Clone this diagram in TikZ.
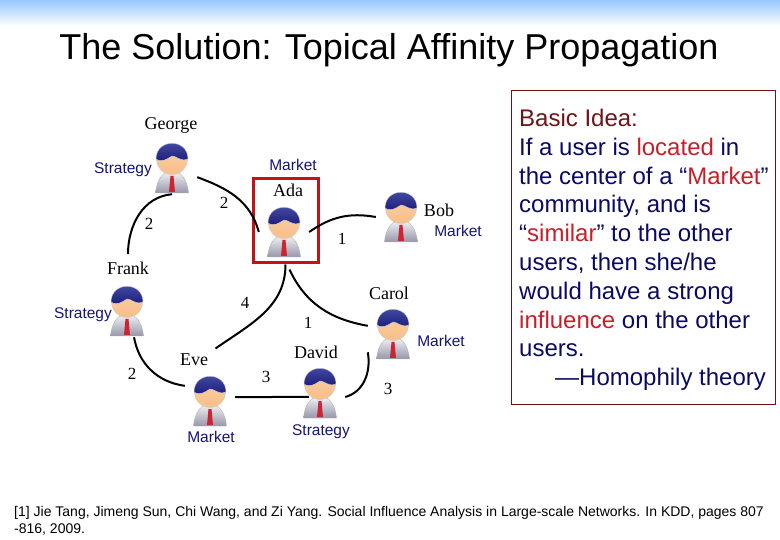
\documentclass[tikz,border=0pt]{standalone}
\usepackage{fontspec}
\setmainfont{Liberation Sans}
\newfontfamily\namefont{Liberation Serif}
\definecolor{TopBlue}{RGB}{150,200,255}
\definecolor{LabelBlue}{RGB}{20,20,120}
\definecolor{BoxRed}{RGB}{192,20,24}
\definecolor{IdeaNavy}{RGB}{10,10,100}
\definecolor{IdeaDark}{RGB}{110,20,20}
\definecolor{IdeaRed}{RGB}{200,30,40}
\definecolor{HairBlue}{RGB}{25,25,120}
\definecolor{HairTop}{RGB}{75,85,170}
\definecolor{SkinTone}{RGB}{248,190,135}
\definecolor{SuitGray}{RGB}{150,150,170}
\definecolor{TieRed}{RGB}{205,35,50}
\usetikzlibrary{positioning}
\tikzset{
  userbox/.style={minimum width=50pt,minimum height=52pt,inner sep=0pt},
  uname/.style={font=\namefont\fontsize{18}{18}\selectfont,text=black},
  weight/.style={font=\namefont\fontsize{17}{17}\selectfont,text=black,inner sep=1pt},
  topic/.style={font=\fontsize{15.5}{16}\selectfont,text=LabelBlue,inner sep=1pt},
  link/.style={line width=2pt,black},
  user/.pic={
    \shade[top color=white!90!SuitGray,bottom color=SuitGray,draw=gray!60] (-16.5,25) .. controls (-15,10) and (-8,3) .. (0,3)
      .. controls (8,3) and (15,10) .. (16.5,25) -- cycle;
    \fill[TieRed] (-1.5,8) -- (1.5,8) -- (3,24) -- (-3,24) -- cycle;
    \shade[top color=SkinTone!70!white,bottom color=SkinTone,draw=gray!40] (0,-9) circle (15.5);
    \shade[top color=HairTop,bottom color=HairBlue,draw=gray!30] (-16,-9) .. controls (-16,-30) and (16,-30) .. (16,-9)
      .. controls (8,-6) and (5,-12) .. (0,-12)
      .. controls (-5,-9) and (-10,-5) .. (-16,-9) -- cycle;
  }
}
\begin{document}
\begin{tikzpicture}[x=1pt,y=-1pt]
  \useasboundingbox (0,0) rectangle (780,540);
  \shade[top color=TopBlue,bottom color=white] (0,0) rectangle (780,26);
  \node[font=\fontsize{36}{36}\selectfont] (title) at (389,50) {The Solution: Topical Affinity Propagation};
  % users
  \node[userbox] (george) at (172,168) {};
  \node[userbox] (ada)    at (284,232) {};
  \node[userbox] (bob)    at (401,217) {};
  \node[userbox] (carol)  at (393,334) {};
  \node[userbox] (david)  at (320,393) {};
  \node[userbox] (eve)    at (210,401) {};
  \node[userbox] (frank)  at (127,311) {};
  \node[draw=BoxRed,line width=3pt,minimum width=65pt,minimum height=84pt,inner sep=0pt] (adabox) at (285.5,221) {};
  \node[uname] (georgename) at (171,125) {George};
  \node[uname] (adaname)    at (288,190) {Ada};
  \node[uname] (bobname)    at (439,210) {Bob};
  \node[uname] (carolname)  at (389,293) {Carol};
  \node[uname] (davidname)  at (316,352) {David};
  \node[uname] (evename)    at (194,360) {Eve};
  \node[uname] (frankname)  at (128,268) {Frank};
  % links
  \draw[link] (george.-20) to[out=-20,in=105] (ada.west);
  \draw[link] (george.south) to[out=185,in=90] ([yshift=4pt]frankname.north);
  \draw[link] (ada.east) to[out=35,in=170] (bob.west);
  \draw[link] ([xshift=4pt,yshift=-5pt]adabox.south) to[out=-65,in=170] (carol.162);
  \draw[link] (adabox.south) to[out=-90,in=35] ([xshift=4pt,yshift=2pt]evename.north east);
  \draw[link] (frank.-75) to[out=-80,in=172] (eve.149);
  \draw[link] (eve.9) -- ([xshift=14pt]david.189);
  \draw[link] (david.-9) to[out=15,in=-80] (carol.216);
  % the figures go over the ends of the links
  \foreach \usr in {george,ada,bob,carol,david,eve,frank}
    \pic at (\usr) {user};
  \node[weight] (w1) at (224,203) {2};
  \node[weight] (w2) at (149,224) {2};
  \node[weight] (w3) at (342,239) {1};
  \node[weight] (w4) at (308,323) {1};
  \node[weight] (w5) at (245,303) {4};
  \node[weight] (w6) at (132,374) {2};
  \node[weight] (w7) at (266,377) {3};
  \node[weight] (w8) at (388,389) {3};
  \node[topic] (t1) at (123,170) {Strategy};
  \node[topic] (t2) at (293,165) {Market};
  \node[topic] (t3) at (458,231) {Market};
  \node[topic] (t4) at (441,341) {Market};
  \node[topic] (t5) at (83,315)  {Strategy};
  \node[topic] (t6) at (211,437) {Market};
  \node[topic] (t7) at (321,432) {Strategy};
  % basic idea box
  \node[draw=IdeaDark,line width=0.8pt,minimum width=264pt,minimum height=314pt,inner sep=0pt] (ideabox) at (643,247) {};
  \node[anchor=north west,align=left,inner sep=0pt,text=IdeaNavy,font=\fontsize{24}{28.8}\selectfont] (ideatext) at (519,109)
    {\textcolor{IdeaDark}{Basic Idea:}\\
     If a user is \textcolor{IdeaRed}{located} in\\
     the center of a “\textcolor{IdeaRed}{Market}”\\
     community, and is\\
     “\textcolor{IdeaRed}{similar}” to the other\\
     users, then she/he\\
     would have a strong\\
     \textcolor{IdeaRed}{influence} on the other\\
     users.\\
     \hspace*{36pt}—Homophily theory};
  \node[anchor=north west,align=left,inner sep=0pt,font=\fontsize{14}{17}\selectfont] (refnote) at (14,506)
    {[1] Jie Tang, Jimeng Sun, Chi Wang, and Zi Yang. Social Influence Analysis in Large-scale Networks. In KDD, pages 807\\
     -816, 2009.};
\end{tikzpicture}
\end{document}
